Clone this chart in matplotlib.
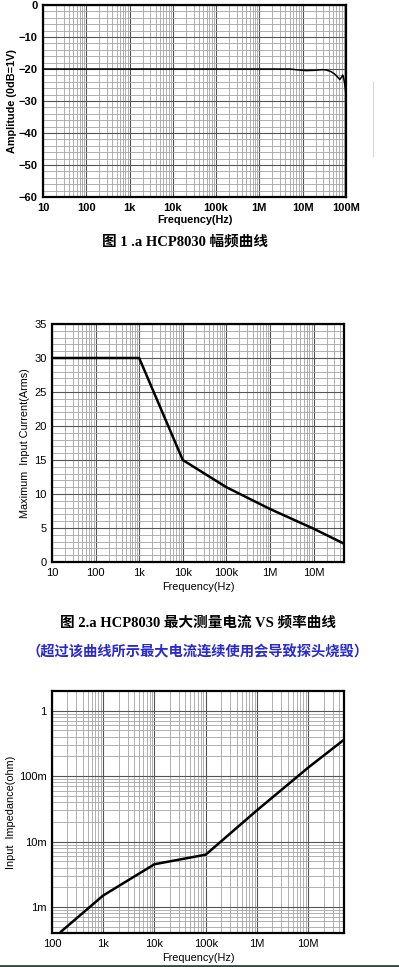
import numpy as np
import matplotlib
matplotlib.use("Agg")
import matplotlib.pyplot as plt
from matplotlib.ticker import MultipleLocator, LogLocator, NullFormatter
from matplotlib.lines import Line2D

plt.rcParams['font.family'] = ['Liberation Sans', 'DejaVu Sans']

# --- chart 1: amplitude vs frequency
freq1 = [10, 5e6, 8e6, 12e6, 20e6, 28e6, 35e6, 45e6, 55e6, 65e6, 72e6,
         80e6, 84e6, 88e6, 93e6, 97e6, 100e6]
amp1 = [-20, -20, -20.3, -20.5, -20.4, -20.2, -20.3, -20.8, -21.6, -22.6,
        -23.3, -22.4, -21.9, -22.8, -24.5, -26.5, -28]
xt1 = [10, 100, 1e3, 1e4, 1e5, 1e6, 1e7, 1e8]
xl1 = ['10', '100', '1k', '10k', '100k', '1M', '10M', '100M']
yt1 = [0, -10, -20, -30, -40, -50, -60]

# --- chart 2: max input current vs frequency
freq2 = [10, 1e3, 1e4, 1e5, 1e6, 1e7, 5e7]
cur2 = [30, 30, 15, 11, 7.8, 4.9, 2.7]
xt2 = [10, 100, 1e3, 1e4, 1e5, 1e6, 1e7]
xl2 = ['10', '100', '1k', '10k', '100k', '1M', '10M']
yt2 = [0, 5, 10, 15, 20, 25, 30, 35]

# --- chart 3: input impedance vs frequency
freq3 = [150, 1e3, 1e4, 1e5, 1e6, 1e7, 5e7]
imp3 = [0.42e-3, 1.5e-3, 4.5e-3, 6.3e-3, 30e-3, 135e-3, 360e-3]
xt3 = [100, 1e3, 1e4, 1e5, 1e6, 1e7]
xl3 = ['100', '1k', '10k', '100k', '1M', '10M']
yt3 = [1e-3, 1e-2, 1e-1, 1]
yl3 = ['1m', '10m', '100m', '1']

W, H = 399, 967
fig = plt.figure(figsize=(W/100, H/100), dpi=100)


def box(l, t, r, b):
    # pixel box -> figure fraction
    return [l/W, 1 - b/H, (r - l)/W, (b - t)/H]


def new_axes(pos, xlim, xticks, xlabels, logy=False):
    ax = fig.add_axes(pos)
    ax.set_xscale('log')
    if logy:
        ax.set_yscale('log')
    ax.set_xlim(*xlim)
    ax.set_xticks(xticks, xlabels)
    ax.xaxis.set_minor_locator(LogLocator(base=10, subs=range(2, 10)))
    ax.xaxis.set_minor_formatter(NullFormatter())
    ax.grid(which='major', color='#555555', lw=0.8)
    ax.grid(which='minor', color='#a4a4a4', lw=0.6)
    ax.tick_params(which='both', length=0, labelsize=8, pad=4)
    for s in ax.spines.values():
        s.set_linewidth(1.6)
    return ax


ax1 = new_axes(box(43, 5, 346, 197), (10, 1e8), xt1, xl1)
ax1.plot(freq1, amp1, color='k', lw=1.1, zorder=3)
ax1.set_ylim(-60, 0)
ax1.set_yticks(yt1)
ax1.yaxis.set_minor_locator(MultipleLocator(2))
for t in ax1.get_xticklabels() + ax1.get_yticklabels():
    t.set_fontweight('bold')
ax1.set_xlabel('Frequency(Hz)', fontsize=7.8, fontweight='bold', labelpad=2)
ax1.set_ylabel('Amplitude (0dB=1V)', fontsize=7.8, fontweight='bold', labelpad=1)

ax2 = new_axes(box(52, 324, 344, 562), (10, 5e7), xt2, xl2)
ax2.plot(freq2, cur2, color='k', lw=1.8, zorder=3)
ax2.set_ylim(0, 35)
ax2.set_yticks(yt2)
ax2.yaxis.set_minor_locator(MultipleLocator(1))
ax2.set_xlabel('Frequency(Hz)', fontsize=7.8, labelpad=3)
ax2.set_ylabel('Maximum  Input Current(Arms)', fontsize=7.8, labelpad=3)

ax3 = new_axes(box(52, 691, 344, 933), (100, 5e7), xt3, xl3, logy=True)
ax3.plot(freq3, imp3, color='k', lw=1.8, zorder=3)
ax3.set_ylim(4e-4, 2)
ax3.set_yticks(yt3, yl3)
ax3.yaxis.set_minor_locator(LogLocator(base=10, subs=range(2, 10)))
ax3.yaxis.set_minor_formatter(NullFormatter())
ax3.set_xlabel('Frequency(Hz)', fontsize=7.8, labelpad=3)
ax3.set_ylabel('Input  Impedance(ohm)', fontsize=7.8, labelpad=2)

cap = ['Liberation Serif', 'Noto Sans CJK SC']
fig.text(185/W, 1 - 242/H, '图 1 .a HCP8030 幅频曲线', family=cap,
         fontsize=10.5, fontweight='bold', ha='center', va='center')
fig.text(198/W, 1 - 623/H, '图 2.a HCP8030 最大测量电流 VS 频率曲线', family=cap,
         fontsize=10.5, fontweight='bold', ha='center', va='center')
fig.text(197/W, 1 - 652/H, '（超过该曲线所示最大电流连续使用会导致探头烧毁）',
         family=['Noto Sans CJK SC'], fontsize=10.3, color='#2a2ad0',
         fontweight='bold', ha='center', va='center')

# faint scan marks and bottom border of the source image
fig.add_artist(Line2D([373/W, 373/W], [1 - 82/H, 1 - 156/H], color='#d8d8d8', lw=0.8))
fig.add_artist(Line2D([0, 1], [1.5/H, 1.5/H], color='#2e4a3c', lw=2))

fig.savefig('out.png', dpi=100)
